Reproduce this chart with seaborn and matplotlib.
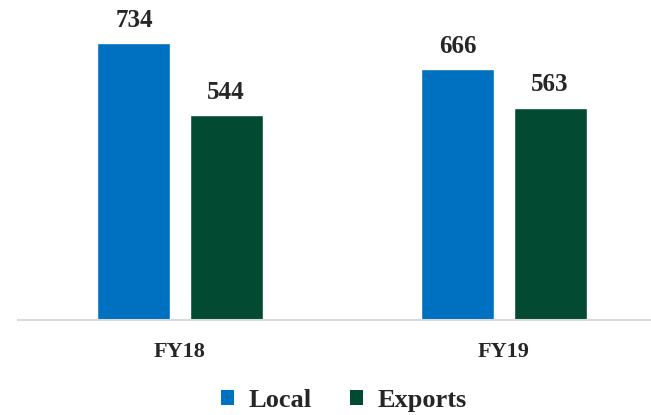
import matplotlib
matplotlib.use("Agg")
import matplotlib.pyplot as plt
import seaborn as sns
import pandas as pd

years = ["FY18", "FY19"]
series = ["Local", "Exports"]
local = [734, 666]
exports = [544, 563]
colors = ["#0070C0", "#034A32"]

df = pd.DataFrame({
    "year": years * 2,
    "series": [series[0]] * 2 + [series[1]] * 2,
    "value": local + exports,
})

sns.set_theme(style="white")
plt.rcParams["font.family"] = ["Liberation Serif", "DejaVu Serif"]

W, H = 651, 415
fig = plt.figure(figsize=(W / 100, H / 100), dpi=100)
base_y = 320
ppu = (320 - 43) / 734.0
ymax = 850
ax_h = ymax * ppu
ax = fig.add_axes([18 / W, (H - base_y) / H, (W - 18) / W, ax_h / H])

sns.barplot(data=df, x="year", y="value", hue="series", palette=colors,
            width=0.568, gap=0.2065, ax=ax, legend=False, saturation=1)
ax.set_xlim(-0.5, 1.5 - 15 / 324)
ax.set_ylim(0, ymax)
for c in ax.containers:
    ax.bar_label(c, fmt="%d", padding=8, fontsize=18, fontweight="bold")

for s in ["top", "right", "left"]:
    ax.spines[s].set_visible(False)
ax.spines["bottom"].set_color("#D9D9D9")
ax.spines["bottom"].set_linewidth(1.5)
ax.set_yticks([])
ax.set_xlabel("")
ax.set_ylabel("")
ax.tick_params(axis="x", length=0, pad=16, labelsize=16)
for t in ax.get_xticklabels():
    t.set_fontweight("bold")

from matplotlib.patches import Patch
handles = [Patch(facecolor=c, edgecolor="none") for c in colors]
fig.legend(handles, series, loc="center", bbox_to_anchor=(0.528, 1 - 400 / H),
           ncol=2, frameon=False, prop={"size": 19, "weight": "bold"},
           handlelength=0.5, handleheight=0.5, handletextpad=0.53,
           columnspacing=1.48)

fig.savefig("out.png", dpi=100)
